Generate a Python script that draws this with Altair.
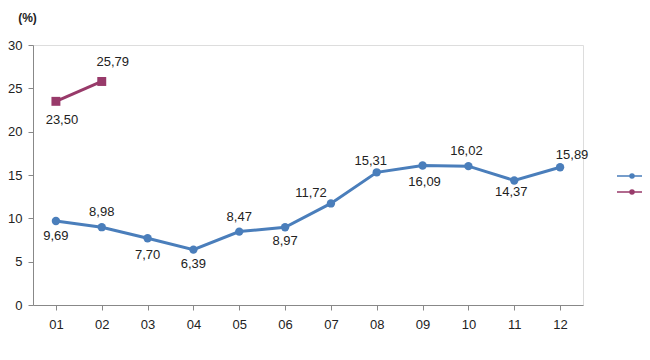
import altair as alt
import pandas as pd

months = ["01", "02", "03", "04", "05", "06", "07", "08", "09", "10", "11", "12"]
series_names = ["2023", "2024"]
blue_values = [9.69, 8.98, 7.70, 6.39, 8.47, 8.97, 11.72, 15.31, 16.09, 16.02, 14.37, 15.89]
red_values = [23.50, 25.79]

# label offsets (pixels) for each data label
blue_dx = [0, 0, 0, 0, 0, 0, -20, -6, 2, -2, -3, 12]
blue_dy = [15, -15, 17, 14, -15, 14, -10, -11, 16, -15, 12, -12]
red_dx = [6, 11]
red_dy = [19, -19]

rows = []
for m, v, dx, dy in zip(months, blue_values, blue_dx, blue_dy):
    rows.append({"month": m, "value": v, "series": series_names[0], "dx": dx, "dy": dy})
for m, v, dx, dy in zip(months, red_values, red_dx, red_dy):
    rows.append({"month": m, "value": v, "series": series_names[1], "dx": dx, "dy": dy})
df = pd.DataFrame(rows)
df["label"] = df["value"].map(lambda v: f"{v:.2f}".replace(".", ","))
df["idx"] = range(len(df))

colors = ["#4A7EBB", "#983A6A"]
font = "Liberation Sans"
cscale = alt.Scale(domain=series_names, range=colors)

x_enc = alt.X("month:O", scale=alt.Scale(type="point", padding=0.5),
              axis=alt.Axis(title=None, labelAngle=0, labelFontSize=13, labelFont=font,
                            labelColor="#222", domainColor="#888", tickColor="#888",
                            tickSize=5, labelPadding=8))
y_enc = alt.Y("value:Q", scale=alt.Scale(domain=[0, 30]),
              axis=alt.Axis(values=[0, 5, 10, 15, 20, 25, 30], grid=False,
                            title="(%)", titleAngle=0, titleX=-6, titleY=-28,
                            titleAlign="center", titleBaseline="middle",
                            titleFontSize=12, titleFont=font, titleFontWeight="bold",
                            titleColor="#222",
                            labelFontSize=13, labelFont=font, labelColor="#222",
                            domainColor="#888", tickColor="#888", tickSize=5,
                            labelPadding=6))
legend_symbol = "M-1.5,0H1.5M-0.2,0A0.2,0.2 0 1 1 0.2,0A0.2,0.2 0 1 1 -0.2,0Z"
color_enc = alt.Color("series:N", scale=cscale,
                      legend=alt.Legend(title=None, orient="none", legendX=588, legendY=120,
                                        symbolType=legend_symbol, symbolSize=400,
                                        symbolStrokeWidth=1.5, labelFontSize=0,
                                        labelExpr="''", rowPadding=-5))

base = alt.Chart(df)
lines = base.mark_line(strokeWidth=3).encode(x=x_enc, y=y_enc, color=color_enc)
pts_blue = base.transform_filter(alt.datum.series == series_names[0]).mark_point(
    shape="circle", filled=True, size=70, opacity=1).encode(
    x="month:O", y="value:Q", color=alt.Color("series:N", legend=None, scale=cscale))
pts_red = base.transform_filter(alt.datum.series == series_names[1]).mark_point(
    shape="square", filled=True, size=80, opacity=1).encode(
    x="month:O", y="value:Q", color=alt.Color("series:N", legend=None, scale=cscale))

label_layers = []
for i, r in df.iterrows():
    label_layers.append(
        base.transform_filter(alt.datum.idx == int(r["idx"])).mark_text(
            font=font, fontSize=13, color="#222", baseline="middle",
            dx=int(r["dx"]), dy=int(r["dy"])).encode(
            x="month:O", y="value:Q", text="label:N"))

chart = alt.layer(lines, pts_blue, pts_red, *label_layers).properties(
    width=550, height=260,
    autosize=alt.AutoSizeParams(type="none"),
    padding={"left": 25, "top": 37, "right": 59, "bottom": 40},
).configure_view(stroke=None).configure(background="white")

chart.save("out.html", embed_options={"renderer": "svg", "actions": False})
